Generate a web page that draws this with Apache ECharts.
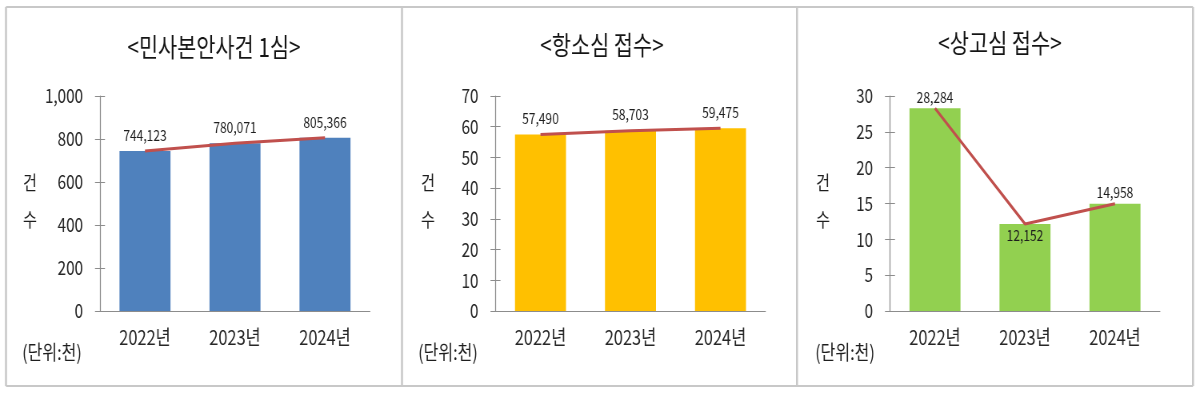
<!DOCTYPE html>
<html>
<head>
<meta charset="utf-8">
<script src="https://cdn.jsdelivr.net/npm/echarts@6.0.0/dist/echarts.min.js"></script>
<style>
html,body{margin:0;padding:0;background:#fff;overflow:hidden;width:1198px;height:394px;}
#c{width:1497.5px;height:394px;transform:scaleX(0.8);transform-origin:0 0;}
</style>
</head>
<body>
<div id="c"></div>
<script>
// ---- data ----
const categories = ['2022년', '2023년', '2024년'];
const titles = ['<민사본안사건 1심>', '<항소심 접수>', '<상고심 접수>'];
const civilCounts = [744123, 780071, 805366];     // 민사본안사건 1심
const appealCounts = [57490, 58703, 59475];       // 항소심 접수
const supremeCounts = [28284, 12152, 14958];      // 상고심 접수
const axisMax = [1000, 70, 30];
const axisInterval = [200, 10, 5];
const supremeLabelPos = ['top', 'insideTop', 'top'];
const unitText = '(단위:천)';
const axisNameText = '건\n수';

// ---- layout / style (the whole picture is drawn 1/0.8 wider, then squeezed by CSS) ----
const S = 0.8;
const X = v => v / S;
const FONT = '"Noto Sans CJK KR", "Noto Sans", sans-serif';
const barColors = ['#4F81BD', '#FFC000', '#92D050'];
const lineColor = '#C0504D';
const gridLefts = [100, 495.5, 890];
const seriesData = [civilCounts, appealCounts, supremeCounts];
const labelPositions = [['top','top','top'], ['top','top','top'], supremeLabelPos];
const labelDist = [8, 9, 4];
const axisColor = '#8c8c8c';
const textColor = '#262626';

const fmt = v => v.toLocaleString('en-US');

const grids = [], xAxes = [], yAxes = [], series = [], graphics = [];

for (let i = 0; i < 3; i++) {
  grids.push({left: X(gridLefts[i]), width: X(270), top: 96, height: 215, containLabel: false});
  xAxes.push({
    type: 'category', gridIndex: i, data: categories,
    axisLine: {lineStyle: {color: axisColor, width: 1}},
    axisTick: {show: false},
    axisLabel: {color: textColor, fontSize: 20.5, fontFamily: FONT, margin: 16}
  });
  yAxes.push({
    type: 'value', gridIndex: i, min: 0, max: axisMax[i], interval: axisInterval[i],
    axisLine: {show: true, lineStyle: {color: axisColor, width: 1.25}},
    axisTick: {show: true, length: X(5), lineStyle: {color: axisColor}},
    splitLine: {show: false},
    axisLabel: {color: textColor, fontSize: 19, fontFamily: FONT, margin: X(17),
      formatter: v => fmt(v)}
  });
  yAxes.push({
    type: 'value', gridIndex: i, position: 'left', min: 0, max: axisMax[i], interval: axisInterval[i],
    axisLine: {show: false},
    axisTick: {show: true, inside: true, length: X(5), lineStyle: {color: axisColor}},
    splitLine: {show: false},
    axisLabel: {show: false}
  });
  const vals = seriesData[i].map(v => v / 1000);
  series.push({
    type: 'bar', xAxisIndex: i, yAxisIndex: i * 2, barWidth: X(51),
    itemStyle: {color: barColors[i]}, silent: true, animation: false,
    data: vals.map((v, k) => ({
      value: v,
      label: {show: true, position: labelPositions[i][k], distance: labelDist[i],
        formatter: () => fmt(seriesData[i][k]),
        color: '#1e1e1e', fontSize: 15, fontFamily: FONT}
    }))
  });
  series.push({
    type: 'line', xAxisIndex: i, yAxisIndex: i * 2, animation: false, silent: true,
    symbol: 'none', lineStyle: {color: lineColor, width: 3},
    data: vals, z: 5
  });
  graphics.push({
    type: 'text', x: X([214, 602, 1000][i]), y: [47, 45, 43][i],
    style: {text: titles[i], font: '26px ' + FONT, fill: '#141414', align: 'center', verticalAlign: 'middle'}
  });
  graphics.push({
    type: 'text', x: X([30, 428, 823][i]), y: 201,
    style: {text: axisNameText, font: '19px ' + FONT, fill: '#1e1e1e', align: 'center', verticalAlign: 'middle', lineHeight: 37}
  });
  graphics.push({
    type: 'text', x: X([52, 448, 845][i]), y: 352,
    style: {text: unitText, font: '20px ' + FONT, fill: '#1e1e1e', align: 'center', verticalAlign: 'middle'}
  });
}

// frame lines
const frame = '#c8c8c8';
const hLines = [[6, 7, 1193, 7], [6, 386, 1193, 386]];
const vLines = [[6, 7, 6, 386], [1193, 7, 1193, 386], [402, 7, 402, 386], [797, 7, 797, 386]];
hLines.forEach(l => graphics.push({
  type: 'line', shape: {x1: X(l[0]), y1: l[1], x2: X(l[2]), y2: l[3]},
  style: {stroke: frame, lineWidth: 2}, silent: true
}));
vLines.forEach(l => graphics.push({
  type: 'line', shape: {x1: X(l[0]), y1: l[1], x2: X(l[2]), y2: l[3]},
  style: {stroke: frame, lineWidth: X(2)}, silent: true
}));

const chart = echarts.init(document.getElementById('c'), null, {renderer: 'canvas'});
chart.setOption({
  animation: false,
  backgroundColor: '#fff',
  grid: grids, xAxis: xAxes, yAxis: yAxes, series: series,
  graphic: graphics
});
</script>
</body>
</html>
